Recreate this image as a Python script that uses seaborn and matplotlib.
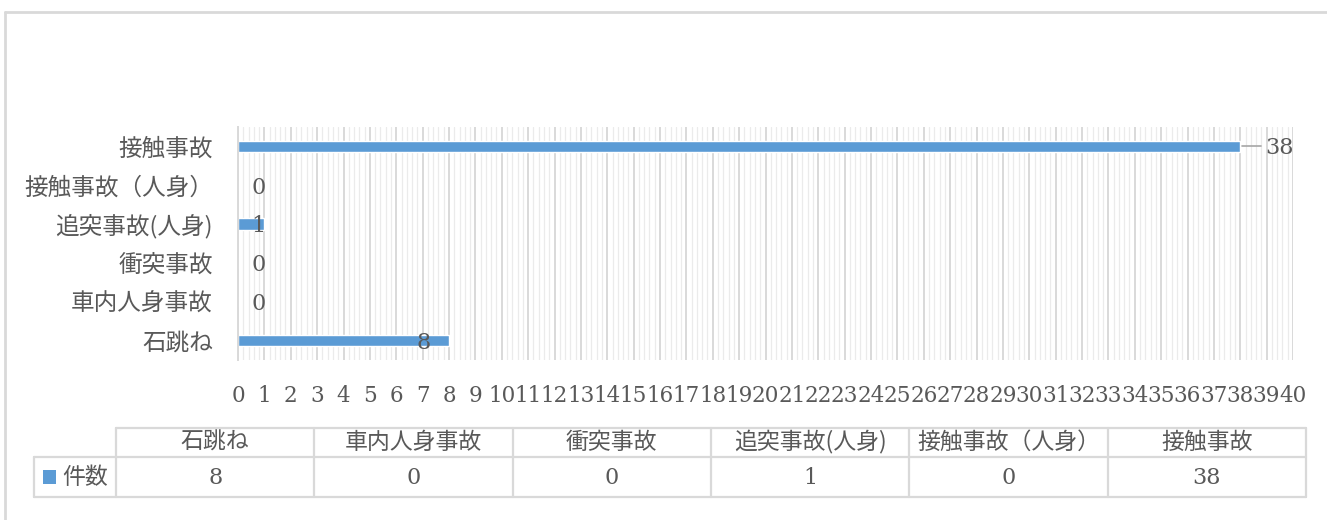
import numpy as np
import pandas as pd
import matplotlib
matplotlib.use("Agg")
import matplotlib.pyplot as plt
import seaborn as sns

# ---- data (table order) ----
categories = ["石跳ね", "車内人身事故", "衝突事故", "追突事故(人身)", "接触事故（人身）", "接触事故"]
counts = [8, 0, 0, 1, 0, 38]
series_name = "件数"
x_ticks = list(range(0, 41))

BAR = "#5b9bd5"
GRID = "#d9d9d9"
MINOR = "#ebebeb"
TXT = "#595959"
SERIF = ["DejaVu Serif", "Noto Sans CJK JP"]
CJK = ["Noto Sans CJK JP", "DejaVu Sans"]

sns.set_theme(style="white")
plt.rcParams["font.family"] = CJK

df = pd.DataFrame({"category": categories, "count": counts})
order = categories[::-1]

W, H = 1327, 520
fig = plt.figure(figsize=(W / 100, H / 100), dpi=100)

# full-figure overlay for frame and data table (pixel coordinates)
ov = fig.add_axes([0, 0, 1, 1], zorder=0)
ov.set_xlim(0, W)
ov.set_ylim(H, 0)
ov.axis("off")
ov.plot([5, W], [12, 12], color=GRID, lw=2)
ov.plot([5, 5], [12, H], color=GRID, lw=2)

ax = fig.add_axes([238 / W, 1 - 360 / H, (1293 - 238) / W, (360 - 127) / H], zorder=1)
ax.patch.set_alpha(0)
sns.barplot(data=df, x="count", y="category", order=order, color=BAR,
            saturation=1, width=0.29, ax=ax, orient="h")

ax.set_xlim(0, 40)
ax.set_ylim(5.5, -0.5)
ax.set_xticks(x_ticks)
ax.set_xticks(np.arange(0, 40.001, 0.2), minor=True)
ax.grid(which="major", axis="x", color=GRID, lw=1.4, zorder=0)
ax.grid(which="minor", axis="x", color=MINOR, lw=0.9, zorder=0)
ax.set_axisbelow(True)
ax.tick_params(axis="x", which="both", length=0, pad=18, labelsize=15.5, labelcolor=TXT)
for lab in ax.get_xticklabels():
    lab.set_fontfamily(SERIF)

ax.set_yticks(np.arange(-0.5, 5.6, 1.0), minor=True)
ax.tick_params(axis="y", which="minor", length=6, width=1.2, color=GRID, direction="out")
ax.tick_params(axis="y", which="major", length=0, pad=18, labelsize=17, labelcolor=TXT)
ax.set_xlabel("")
ax.set_ylabel("")
for s in ["top", "right", "bottom"]:
    ax.spines[s].set_visible(False)
ax.spines["left"].set_color(GRID)
ax.spines["left"].set_linewidth(1.4)

# data labels
vmax = max(counts)
for cat, v in zip(categories, counts):
    yi = order.index(cat)
    if v == vmax:
        ax.plot([v + 0.05, v + 0.8], [yi, yi], color="#a6a6a6", lw=1.2, clip_on=False)
        ax.text(v + 0.95, yi + 0.04, str(v), ha="left", va="center", fontsize=16,
                color=TXT, family=SERIF, clip_on=False)
    elif v > 3:
        ax.text(v - 0.95, yi + 0.06, str(v), ha="center", va="center", fontsize=16,
                color=TXT, family=SERIF)
    else:
        ax.text(0.78, yi + 0.06, str(v), ha="center", va="center", fontsize=16,
                color=TXT, family=SERIF)

# ---- data table below ----
col_edges = np.linspace(116, 1306, len(categories) + 1)
y_top, y_mid, y_bot = 428, 457, 497
ov.plot([col_edges[0], col_edges[-1]], [y_top, y_top], color=GRID, lw=1.6)
ov.plot([34, col_edges[-1]], [y_mid, y_mid], color=GRID, lw=1.6)
ov.plot([34, col_edges[-1]], [y_bot, y_bot], color=GRID, lw=1.6)
ov.plot([34, 34], [y_mid, y_bot], color=GRID, lw=1.6)
for xe in col_edges:
    ov.plot([xe, xe], [y_top, y_bot], color=GRID, lw=1.6)
for i, (cat, v) in enumerate(zip(categories, counts)):
    xc = (col_edges[i] + col_edges[i + 1]) / 2
    ov.text(xc, (y_top + y_mid) / 2, cat, ha="center", va="center", fontsize=16.5,
            color=TXT, family=CJK)
    ov.text(xc, (y_mid + y_bot) / 2 + 1, str(v), ha="center", va="center", fontsize=16,
            color=TXT, family=SERIF)
ov.add_patch(plt.Rectangle((43, 470), 13, 14, color=BAR, lw=0))
ov.text(62, (y_mid + y_bot) / 2, series_name, ha="left", va="center", fontsize=16.5,
        color=TXT, family=CJK)

fig.savefig("out.png", dpi=100, facecolor="white")
